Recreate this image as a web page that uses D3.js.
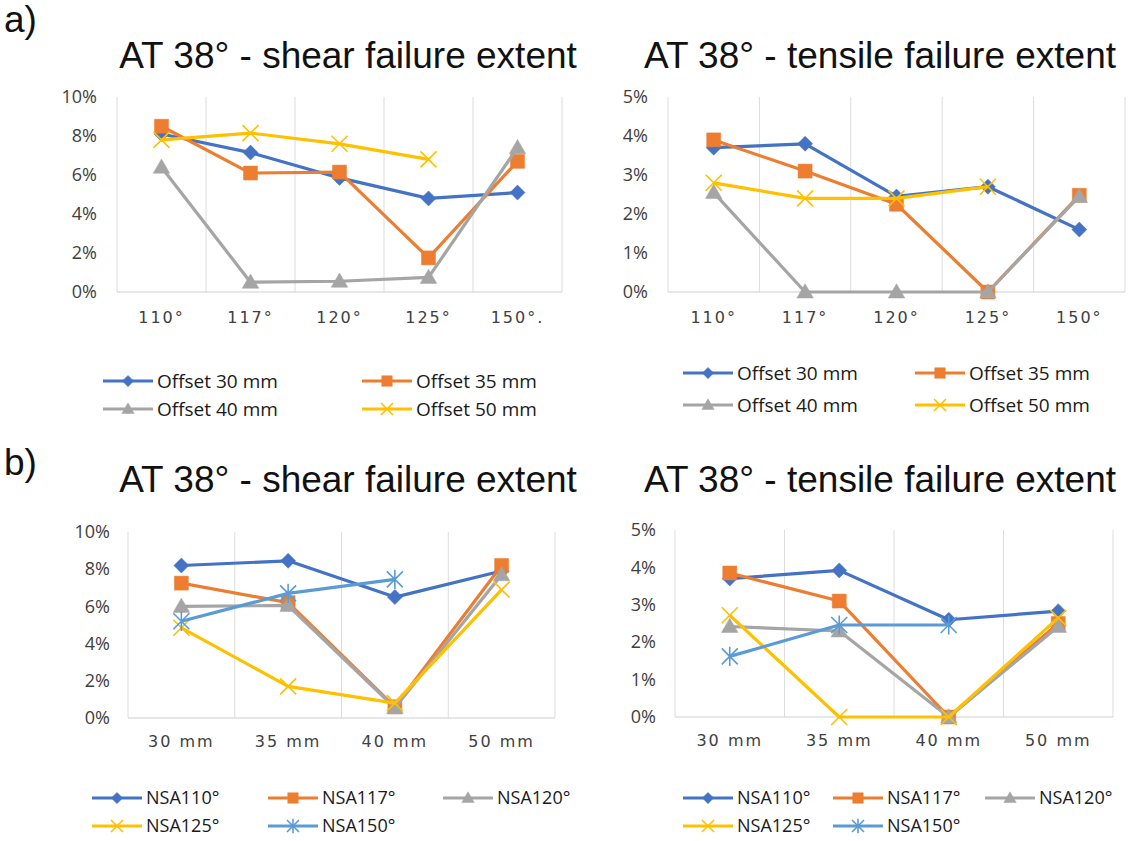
<!DOCTYPE html>
<html>
<head>
<meta charset="utf-8">
<script src="https://cdn.jsdelivr.net/npm/d3@7"></script>
<style>
  html, body { margin: 0; padding: 0; background: #fff; }
  svg { display: block; font-family: "Open Sans", "Noto Sans", sans-serif; }
</style>
</head>
<body>
<svg id="chart" width="1145" height="841"></svg>
<script>
// ---- data ----
const nsaCategories = ["110°", "117°", "120°", "125°", "150°"];
const nsaCategoriesLeft = ["110°", "117°", "120°", "125°", "150°."];
const offsetCategories = ["30 mm", "35 mm", "40 mm", "50 mm"];

const offsetSeriesNames = ["Offset 30 mm", "Offset 35 mm", "Offset 40 mm", "Offset 50 mm"];
const nsaSeriesNames = ["NSA110°", "NSA117°", "NSA120°", "NSA125°", "NSA150°"];

// shear failure extent (%) by NSA, one array per offset
const shearOffset30 = [8.1, 7.15, 5.85, 4.8, 5.1];
const shearOffset35 = [8.5, 6.1, 6.15, 1.75, 6.7];
const shearOffset40 = [6.4, 0.5, 0.55, 0.75, 7.4];
const shearOffset50 = [7.8, 8.15, 7.6, 6.8, null];

// tensile failure extent (%) by NSA, one array per offset
const tensileOffset30 = [3.7, 3.8, 2.45, 2.7, 1.6];
const tensileOffset35 = [3.9, 3.1, 2.25, 0, 2.48];
const tensileOffset40 = [2.55, 0, 0, 0, 2.45];
const tensileOffset50 = [2.8, 2.4, 2.4, 2.7, null];

// shear failure extent (%) by offset, one array per NSA
const shearNSA110 = [8.2, 8.45, 6.5, 7.9];
const shearNSA117 = [7.25, 6.2, 0.6, 8.2];
const shearNSA120 = [6.0, 6.05, 0.55, 7.7];
const shearNSA125 = [4.85, 1.7, 0.8, 6.9];
const shearNSA150 = [5.2, 6.7, 7.45, null];

// tensile failure extent (%) by offset, one array per NSA
const tensileNSA110 = [3.7, 3.92, 2.6, 2.83];
const tensileNSA117 = [3.85, 3.1, 0, 2.5];
const tensileNSA120 = [2.42, 2.3, 0, 2.42];
const tensileNSA125 = [2.72, 0, 0, 2.65];
const tensileNSA150 = [1.62, 2.46, 2.46, null];

const shearTicks = [0, 2, 4, 6, 8, 10];
const tensileTicks = [0, 1, 2, 3, 4, 5];

// ---- styles ----
const BLUE = "#4472C4", ORANGE = "#ED7D31", GRAY = "#A5A5A5", GOLD = "#FFC000", LIGHTBLUE = "#5B9BD5";
const offsetColors = [BLUE, ORANGE, GRAY, GOLD];
const offsetMarkers = ["diamond", "square", "triangle", "x"];
const nsaColors = [BLUE, ORANGE, GRAY, GOLD, LIGHTBLUE];
const nsaMarkers = ["diamond", "square", "triangle", "x", "star"];

const svg = d3.select("#chart");

function markerPath(type, s) {
  // s = half-size of the marker
  switch (type) {
    case "diamond": return `M0,${-s}L${s},0L0,${s}L${-s},0Z`;
    case "square": return `M${-s},${-s}H${s}V${s}H${-s}Z`;
    case "triangle": return `M0,${-s * 1.1}L${s * 1.1},${s * 0.8}L${-s * 1.1},${s * 0.8}Z`;
    case "x": return `M${-s},${-s}L${s},${s}M${-s},${s}L${s},${-s}`;
    case "star": return `M${-s},${-s}L${s},${s}M${-s},${s}L${s},${-s}M0,${-s * 1.2}L0,${s * 1.2}`;
  }
}

function drawMarker(g, type, color, x, y, scale) {
  const sizes = { diamond: 7.5, square: 7, triangle: 7.5, x: 8, star: 8 };
  const s = sizes[type] * scale;
  const stroked = type === "x" || type === "star";
  g.append("path")
    .attr("transform", `translate(${x},${y})`)
    .attr("d", markerPath(type, s))
    .attr("fill", stroked ? "none" : color)
    .attr("stroke", color)
    .attr("stroke-width", stroked ? 1.6 : 0.5);
}

function drawPanel(cfg) {
  const g = svg.append("g");
  const x = d3.scaleBand().domain(cfg.categories).range([cfg.left, cfg.right]);
  const y = d3.scaleLinear().domain([0, cfg.ticks[cfg.ticks.length - 1]]).range([cfg.bottom, cfg.top]);

  // vertical gridlines at band boundaries
  const bounds = cfg.categories.map(c => x(c)).concat([cfg.right]);
  g.selectAll("line.grid").data(bounds).join("line")
    .attr("x1", d => d).attr("x2", d => d)
    .attr("y1", cfg.top).attr("y2", cfg.bottom)
    .attr("stroke", "#dcdcdc").attr("stroke-width", 1);

  // baseline
  g.append("line")
    .attr("x1", cfg.left).attr("x2", cfg.right)
    .attr("y1", cfg.bottom).attr("y2", cfg.bottom)
    .attr("stroke", "#d0d0d0").attr("stroke-width", 1.2);

  // y axis
  const yAxis = g.append("g")
    .attr("transform", `translate(${cfg.left},0)`)
    .call(d3.axisLeft(y).tickValues(cfg.ticks).tickSize(0).tickPadding(cfg.yPad).tickFormat(d => d + "%"));
  yAxis.select(".domain").remove();
  yAxis.selectAll("text")
    .attr("font-size", 18).attr("fill", "#404040")
    .attr("font-family", "'Open Sans', sans-serif");

  // x axis
  const xAxis = g.append("g")
    .attr("transform", `translate(0,${cfg.bottom})`)
    .call(d3.axisBottom(x).tickSize(0).tickPadding(cfg.xPad));
  xAxis.select(".domain").remove();
  xAxis.selectAll("text")
    .attr("font-size", 16).attr("fill", "#404040")
    .attr("letter-spacing", "2px")
    .attr("font-family", "'DejaVu Sans', sans-serif");

  // series lines and markers
  const cx = c => x(c) + x.bandwidth() / 2;
  cfg.series.forEach((vals, i) => {
    const pts = vals.map((v, j) => ({ c: cfg.categories[j], v }));
    const line = d3.line().defined(d => d.v !== null).x(d => cx(d.c)).y(d => y(d.v));
    g.append("path").datum(pts)
      .attr("d", line)
      .attr("fill", "none")
      .attr("stroke", cfg.colors[i])
      .attr("stroke-width", 3.2)
      .attr("stroke-linejoin", "round");
    pts.filter(d => d.v !== null).forEach(d => drawMarker(g, cfg.markers[i], cfg.colors[i], cx(d.c), y(d.v), 1));
  });

  // title
  svg.append("text")
    .attr("x", cfg.titleX).attr("y", cfg.titleY)
    .attr("text-anchor", "middle")
    .attr("font-size", 37).attr("fill", "#111")
    .attr("font-family", "'Liberation Sans', Arial, sans-serif")
    .text(cfg.title);

  // legend
  const lg = svg.append("g");
  cfg.legend.forEach((pos, i) => {
    const [lx, ly] = pos;
    lg.append("line")
      .attr("x1", lx).attr("x2", lx + 50).attr("y1", ly).attr("y2", ly)
      .attr("stroke", cfg.colors[i]).attr("stroke-width", 3.2);
    drawMarker(lg, cfg.markers[i], cfg.colors[i], lx + 25, ly, 0.75);
    lg.append("text")
      .attr("x", lx + 54).attr("y", ly)
      .attr("dy", "0.35em")
      .attr("font-size", cfg.legendSize).attr("fill", "#1a1a1a")
      .attr("font-family", "'Open Sans', sans-serif")
      .text(cfg.names[i]);
  });
}

// panel labels
svg.append("text").attr("x", 4).attr("y", 32).attr("font-size", 37).attr("fill", "#111")
  .attr("font-family", "'Liberation Sans', Arial, sans-serif").text("a)");
svg.append("text").attr("x", 4).attr("y", 475).attr("font-size", 37).attr("fill", "#111")
  .attr("font-family", "'Liberation Sans', Arial, sans-serif").text("b)");

drawPanel({
  title: "AT 38° - shear failure extent", titleX: 348, titleY: 68,
  categories: nsaCategoriesLeft, ticks: shearTicks,
  left: 117, right: 562, top: 97, bottom: 292, yPad: 20, xPad: 20,
  series: [shearOffset30, shearOffset35, shearOffset40, shearOffset50],
  colors: offsetColors, markers: offsetMarkers, names: offsetSeriesNames, legendSize: 19,
  legend: [[103, 381], [362, 381], [103, 409], [362, 409]]
});

drawPanel({
  title: "AT 38° - tensile failure extent", titleX: 880, titleY: 68,
  categories: nsaCategories, ticks: tensileTicks,
  left: 668, right: 1125, top: 97, bottom: 292, yPad: 20, xPad: 20,
  series: [tensileOffset30, tensileOffset35, tensileOffset40, tensileOffset50],
  colors: offsetColors, markers: offsetMarkers, names: offsetSeriesNames, legendSize: 19,
  legend: [[683, 373], [915, 373], [683, 405], [915, 405]]
});

drawPanel({
  title: "AT 38° - shear failure extent", titleX: 348, titleY: 492,
  categories: offsetCategories, ticks: shearTicks,
  left: 128, right: 555, top: 532, bottom: 718, yPad: 18, xPad: 18,
  series: [shearNSA110, shearNSA117, shearNSA120, shearNSA125, shearNSA150],
  colors: nsaColors, markers: nsaMarkers, names: nsaSeriesNames, legendSize: 18,
  legend: [[92, 798], [268, 798], [443, 798], [92, 826], [268, 826]]
});

drawPanel({
  title: "AT 38° - tensile failure extent", titleX: 880, titleY: 492,
  categories: offsetCategories, ticks: tensileTicks,
  left: 675, right: 1113, top: 530, bottom: 717, yPad: 19, xPad: 18,
  series: [tensileNSA110, tensileNSA117, tensileNSA120, tensileNSA125, tensileNSA150],
  colors: nsaColors, markers: nsaMarkers, names: nsaSeriesNames, legendSize: 18,
  legend: [[683, 798], [833, 798], [985, 798], [683, 826], [833, 826]]
});
</script>
</body>
</html>
